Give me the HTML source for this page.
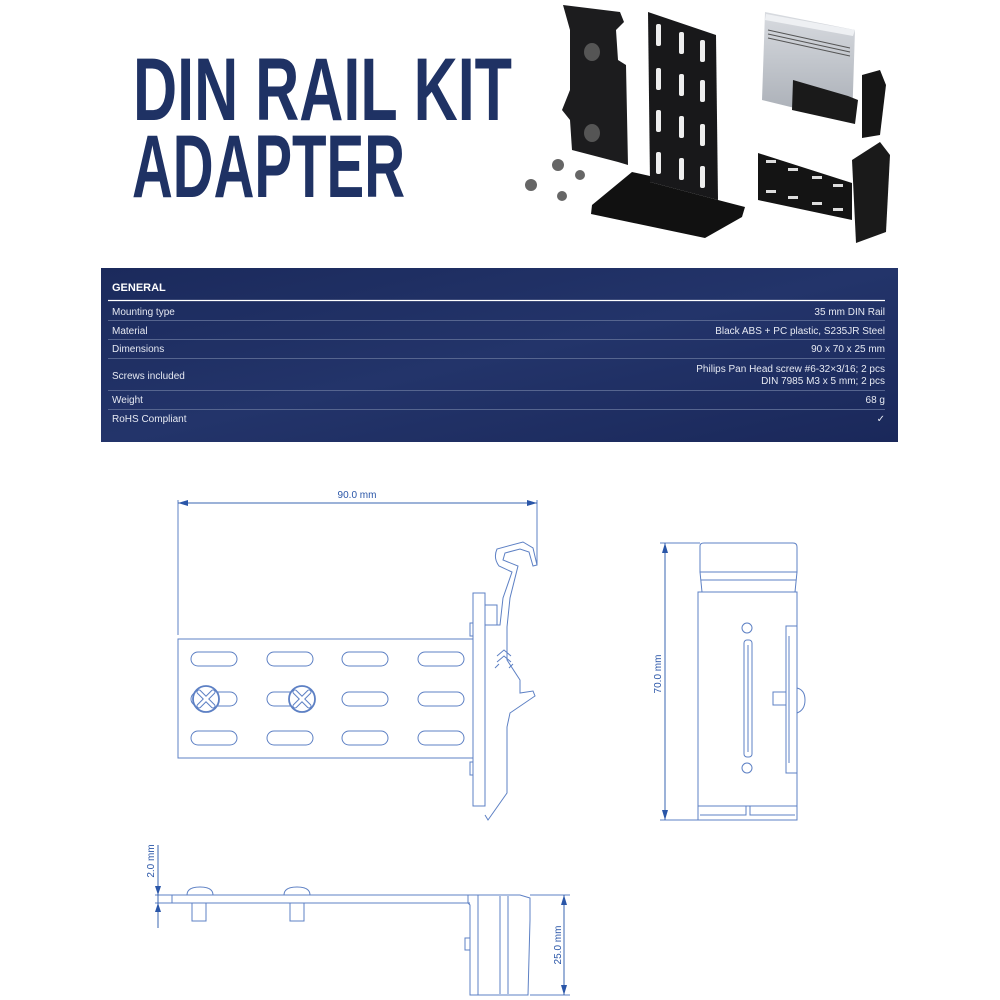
<!DOCTYPE html>
<html><head><meta charset="utf-8"><style>
html,body{margin:0;padding:0;background:#fff;}
body{width:1000px;height:1000px;overflow:hidden;position:relative;font-family:"Liberation Sans",sans-serif;}
</style></head><body>
<svg width="1000" height="1000" viewBox="0 0 1000 1000" xmlns="http://www.w3.org/2000/svg" style="position:absolute;left:0;top:0">
<defs>
<linearGradient id="tb" x1="0" y1="0" x2="1" y2="1">
<stop offset="0" stop-color="#1b2a5c"/><stop offset="0.5" stop-color="#23346a"/><stop offset="1" stop-color="#1a285a"/>
</linearGradient>
<linearGradient id="alu" x1="0" y1="0" x2="0" y2="1">
<stop offset="0" stop-color="#d8dbe0"/><stop offset="1" stop-color="#a7acb4"/>
</linearGradient>
</defs>
<g fill="#1f3264" font-family="'Liberation Sans Narrow','Liberation Sans',sans-serif" font-weight="bold" font-size="89">
<text x="133" y="120" textLength="379" lengthAdjust="spacingAndGlyphs">DIN RAIL KIT</text>
<text x="132" y="197" textLength="273" lengthAdjust="spacingAndGlyphs">ADAPTER</text>
</g>
<g>
<path d="M563 5 L620 12 L624 22 L616 30 L618 60 L626 65 L628 165 L618 162 L572 150 L570 120 L562 110 L570 90 L570 30 Z" fill="#1c1c1e"/>
<ellipse cx="592" cy="52" rx="8" ry="9" fill="#555"/>
<ellipse cx="592" cy="133" rx="8" ry="9" fill="#555"/>
<path d="M648 12 L716 35 L718 200 L650 182 Z" fill="#18181a"/>
<g fill="#eee"><rect x="656" y="24" width="5" height="22" rx="2"/><rect x="679" y="32" width="5" height="22" rx="2"/><rect x="700" y="40" width="5" height="22" rx="2"/>
<rect x="656" y="68" width="5" height="22" rx="2"/><rect x="679" y="74" width="5" height="22" rx="2"/><rect x="700" y="80" width="5" height="22" rx="2"/>
<rect x="656" y="110" width="5" height="22" rx="2"/><rect x="679" y="116" width="5" height="22" rx="2"/><rect x="700" y="124" width="5" height="22" rx="2"/>
<rect x="656" y="152" width="5" height="22" rx="2"/><rect x="679" y="158" width="5" height="22" rx="2"/><rect x="700" y="166" width="5" height="22" rx="2"/></g>
<path d="M592 205 L632 172 L650 176 L650 182 L718 200 L745 207 L742 217 L705 238 L591 214 Z" fill="#111"/>
<g fill="#666"><circle cx="531" cy="185" r="6"/><circle cx="558" cy="165" r="6"/><circle cx="580" cy="175" r="5"/><circle cx="562" cy="196" r="5"/></g>
<path d="M765 12 L855 30 L852 122 L762 100 Z" fill="url(#alu)"/>
<path d="M766 14 L855 30 L853 36 L765 20 Z" fill="#eef0f3"/>
<g stroke="#555" stroke-width="1"><line x1="768" y1="30" x2="850" y2="48"/><line x1="768" y1="34" x2="850" y2="52"/><line x1="768" y1="38" x2="850" y2="56"/></g>
<path d="M793 80 L848 96 L858 100 L855 124 L792 110 Z" fill="#1a1a1a"/>
<path d="M862 75 L880 70 L886 85 L880 135 L862 138 Z" fill="#161616"/>
<path d="M758 153 L852 183 L852 220 L758 200 Z" fill="#141414"/>
<g fill="#ddd"><rect x="766" y="160" width="10" height="3"/><rect x="788" y="168" width="10" height="3"/><rect x="812" y="176" width="10" height="3"/><rect x="833" y="184" width="10" height="3"/>
<rect x="766" y="190" width="10" height="3"/><rect x="788" y="196" width="10" height="3"/><rect x="812" y="202" width="10" height="3"/><rect x="833" y="208" width="10" height="3"/></g>
<path d="M852 160 L880 142 L890 155 L886 232 L856 243 Z" fill="#1a1a1a"/>
</g>
<rect x="101" y="268" width="797" height="174" fill="url(#tb)"/>
<g font-size="10" fill="#e6e9f2">
<text x="112" y="291" font-weight="bold" font-size="11" fill="#fff" font-family="'Liberation Sans Narrow','Liberation Sans',sans-serif">GENERAL</text>
<line x1="108" y1="300.5" x2="885" y2="300.5" stroke="#fff" stroke-width="1.2"/>
<g stroke="#56658f" stroke-width="1">
<line x1="108" y1="320.5" x2="885" y2="320.5"/><line x1="108" y1="339.5" x2="885" y2="339.5"/><line x1="108" y1="358.5" x2="885" y2="358.5"/><line x1="108" y1="390.5" x2="885" y2="390.5"/><line x1="108" y1="409.5" x2="885" y2="409.5"/>
</g>
<text x="112" y="315">Mounting type</text><text x="885" y="315" text-anchor="end">35 mm DIN Rail</text>
<text x="112" y="334">Material</text><text x="885" y="334" text-anchor="end">Black ABS + PC plastic, S235JR Steel</text>
<text x="112" y="352">Dimensions</text><text x="885" y="352" text-anchor="end">90 x 70 x 25 mm</text>
<text x="112" y="379">Screws included</text><text x="885" y="372" text-anchor="end">Philips Pan Head screw #6-32×3/16; 2 pcs</text><text x="885" y="384" text-anchor="end">DIN 7985 M3 x 5 mm; 2 pcs</text>
<text x="112" y="403">Weight</text><text x="885" y="403" text-anchor="end">68 g</text>
<text x="112" y="422">RoHS Compliant</text><text x="885" y="422" text-anchor="end">✓</text>
</g>
<g fill="none" stroke="#5d80c4" stroke-width="1">
<line x1="178" y1="500" x2="178" y2="635"/><line x1="537" y1="500" x2="537" y2="565"/>
<line x1="178" y1="503" x2="537" y2="503" stroke="#3a64b0"/>
<rect x="178" y="639" width="295" height="119"/>
<g>
<rect x="191" y="652" width="46" height="14" rx="7"/><rect x="267" y="652" width="46" height="14" rx="7"/><rect x="342" y="652" width="46" height="14" rx="7"/><rect x="418" y="652" width="46" height="14" rx="7"/>
<rect x="191" y="692" width="46" height="14" rx="7"/><rect x="267" y="692" width="46" height="14" rx="7"/><rect x="342" y="692" width="46" height="14" rx="7"/><rect x="418" y="692" width="46" height="14" rx="7"/>
<rect x="191" y="731" width="46" height="14" rx="7"/><rect x="267" y="731" width="46" height="14" rx="7"/><rect x="342" y="731" width="46" height="14" rx="7"/><rect x="418" y="731" width="46" height="14" rx="7"/>
</g>
<circle cx="206" cy="699" r="13" fill="#fff" stroke-width="1.8"/><circle cx="302" cy="699" r="13" fill="#fff" stroke-width="1.8"/>
<path d="M199 692 L213 706 M213 692 L199 706 M295 692 L309 706 M309 692 L295 706" stroke-width="5" stroke="#5d80c4" stroke-linecap="round"/>
<path d="M199 692 L213 706 M213 692 L199 706 M295 692 L309 706 M309 692 L295 706" stroke-width="3" stroke="#fff" stroke-linecap="round"/>
<rect x="473" y="593" width="12" height="213"/>
<rect x="470" y="623" width="3" height="13"/><rect x="470" y="762" width="3" height="13"/>
<rect x="485" y="605" width="12" height="20"/>
<path d="M485 625 L500 625 L503 598 L512 572 L499 566 Q493 558 497 549 L523 542 L533 548 L537 565 L533 566 L529 552 L520 549 L505 553 L503 560 L518 566 L510 598 L507 627 L507 660 L520 680 L520 693 L533 691 L535 696 L510 713 L507 727 L507 793 L488 820 L485 815"/>
<path d="M497 656 L504 650 L511 656 M497 662 L504 656 L511 662 M495 668 L499 664 M509 668 L513 664" stroke-width="1"/>
</g>
<g fill="#2a56a8">
<path d="M178 503 L188 500 L188 506 Z"/><path d="M537 503 L527 500 L527 506 Z"/>
<text x="357" y="498" font-size="10" text-anchor="middle" stroke="none">90.0 mm</text>
</g>
<g fill="none" stroke="#5d80c4" stroke-width="1">
<line x1="660" y1="543" x2="700" y2="543"/><line x1="660" y1="820" x2="700" y2="820"/>
<line x1="665" y1="543" x2="665" y2="820" stroke="#3a64b0"/>
<path d="M700 572 L700 546 Q700 543 704 543 L793 543 Q797 543 797 547 L797 572 Z"/>
<path d="M700 572 L702 592 M797 572 L795 592 M701 580 L796 580"/>
<rect x="698" y="592" width="99" height="214"/>
<path d="M698 806 L698 820 L797 820 L797 806 M700 815 L746 815 L746 806 M750 806 L750 815 L795 815"/>
<rect x="744" y="640" width="8" height="117" rx="3"/>
<line x1="748" y1="645" x2="748" y2="752"/>
<circle cx="747" cy="628" r="5"/><circle cx="747" cy="768" r="5"/>
<rect x="786" y="626" width="11" height="147"/>
<line x1="789" y1="636" x2="789" y2="763"/>
<rect x="773" y="692" width="13" height="13"/>
<path d="M797 688 Q805 690 805 700 Q805 710 797 713"/>
</g>
<g fill="#2a56a8">
<path d="M665 543 L662 553 L668 553 Z"/><path d="M665 820 L662 810 L668 810 Z"/>
<text transform="translate(661,674) rotate(-90)" font-size="10" text-anchor="middle">70.0 mm</text>
</g>
<g fill="none" stroke="#5d80c4" stroke-width="1">
<line x1="155" y1="895" x2="470" y2="895"/><line x1="155" y1="903" x2="470" y2="903"/>
<line x1="172" y1="895" x2="172" y2="903"/>
<line x1="158" y1="845" x2="158" y2="928" stroke="#3a64b0"/>
<path d="M187 895 Q187 887 200 887 Q213 887 213 895"/><path d="M284 895 Q284 887 297 887 Q310 887 310 895"/>
<rect x="192" y="903" width="14" height="18"/><rect x="290" y="903" width="14" height="18"/>
<path d="M468 895 L468 903 L470 905 L470 995 L528 995 L530 920 L530 898 L520 895 Z"/>
<line x1="478" y1="895" x2="478" y2="995"/><line x1="500" y1="896" x2="500" y2="994"/><line x1="508" y1="896" x2="508" y2="994"/>
<rect x="465" y="938" width="5" height="12"/>
<line x1="530" y1="895" x2="570" y2="895"/><line x1="530" y1="995" x2="570" y2="995"/>
<line x1="564" y1="895" x2="564" y2="995" stroke="#3a64b0"/>
</g>
<g fill="#2a56a8">
<path d="M158 895 L155 886 L161 886 Z"/><path d="M158 903 L155 912 L161 912 Z"/>
<path d="M564 895 L561 905 L567 905 Z"/><path d="M564 995 L561 985 L567 985 Z"/>
<text transform="translate(154,861) rotate(-90)" font-size="10" text-anchor="middle">2.0 mm</text>
<text transform="translate(561,945) rotate(-90)" font-size="10" text-anchor="middle">25.0 mm</text>
</g>
</svg>
</body></html>
